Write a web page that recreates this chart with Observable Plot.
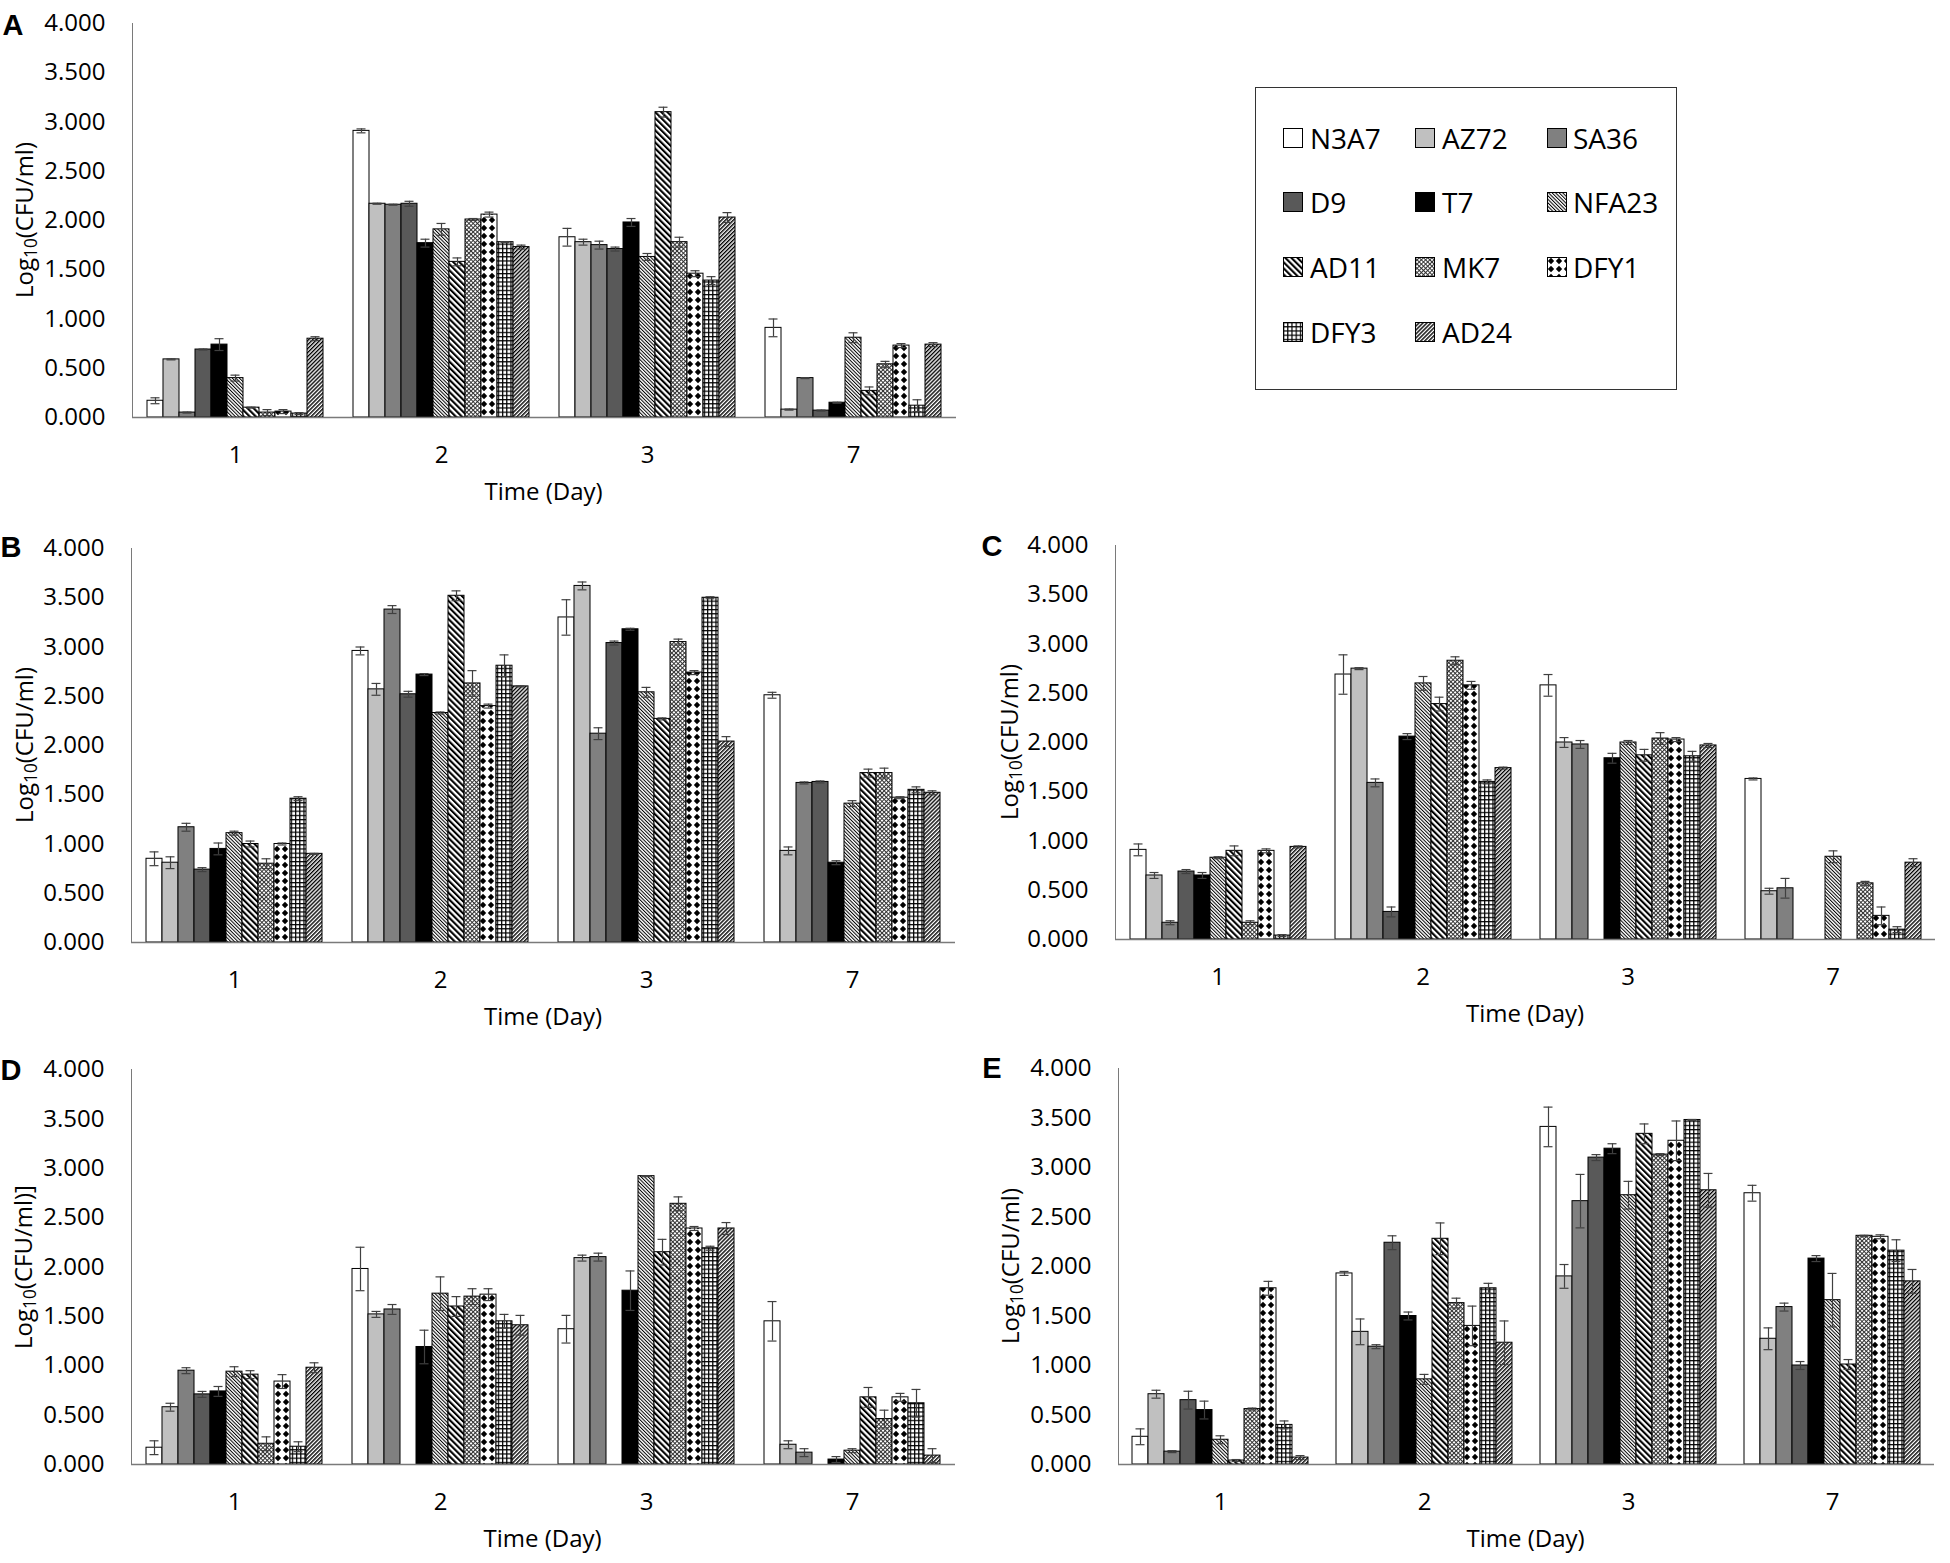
<!DOCTYPE html>
<html><head><meta charset="utf-8">
<script src="https://cdn.jsdelivr.net/npm/d3@7"></script>
<script src="https://cdn.jsdelivr.net/npm/@observablehq/plot@0.6"></script>
<style>
body{margin:0;background:#fff;}
#root{position:relative;width:1950px;height:1563px;background:#fff;font-family:"Open Sans",sans-serif;overflow:hidden;}
.panel{position:absolute;}
.panel svg text{fill:#000;}
.lbl{position:absolute;transform:translate(-50%,-50%);white-space:nowrap;line-height:1;color:#000;}
.lbl sub{font-size:0.72em;vertical-align:-0.25em;line-height:0;}
.legend{position:absolute;border:1.5px solid #333;box-sizing:border-box;}
.litem{position:absolute;font-size:28px;line-height:1;transform:translateY(-50%);color:#000;}
.sw{position:absolute;transform:translateY(-50%);}
</style></head><body>
<svg width="0" height="0" style="position:absolute;left:0;top:0">
<defs>
<pattern id="p-nfa23" patternUnits="userSpaceOnUse" width="2.5" height="2.5" patternTransform="rotate(-45)"><rect width="2.5" height="2.5" fill="#fff"/><rect width="1" height="2.5" fill="#000"/></pattern>
<pattern id="p-ad11" patternUnits="userSpaceOnUse" width="4.3" height="4.3" patternTransform="rotate(-45)"><rect width="4.3" height="4.3" fill="#fff"/><rect width="2.1" height="4.3" fill="#000"/></pattern>
<pattern id="p-ad24" patternUnits="userSpaceOnUse" width="2.8" height="2.8" patternTransform="rotate(45)"><rect width="2.8" height="2.8" fill="#fff"/><rect width="1.4" height="2.8" fill="#000"/></pattern>
<pattern id="p-mk7" patternUnits="userSpaceOnUse" width="3" height="3" patternTransform="rotate(45)"><rect width="3" height="3" fill="#fff"/><rect width="1" height="3" fill="#333"/><rect width="3" height="1" fill="#333"/></pattern>
<pattern id="p-dfy1" patternUnits="userSpaceOnUse" width="8" height="8"><rect width="8" height="8" fill="#fff"/><polygon points="4,0.8 7.2,4 4,7.2 0.8,4" fill="#000"/></pattern>
<pattern id="p-dfy3" patternUnits="userSpaceOnUse" width="4.2" height="4.2"><rect width="4.2" height="4.2" fill="#fff"/><rect width="1.2" height="4.2" fill="#000"/><rect width="4.2" height="1.2" fill="#000"/></pattern>
</defs></svg>
<div id="root"></div>
<script>
// ---------- data ----------
const days = ["1", "2", "3", "7"];
const strains = ["N3A7", "AZ72", "SA36", "D9", "T7", "NFA23", "AD11", "MK7", "DFY1", "DFY3", "AD24"];
const yTicks = [0, 0.5, 1, 1.5, 2, 2.5, 3, 3.5, 4];

// rows = days (1,2,3,7), columns = strains
const valuesA = [
  [0.17, 0.59, 0.05, 0.69, 0.74, 0.40, 0.10, 0.05, 0.06, 0.04, 0.80],
  [2.91, 2.17, 2.16, 2.17, 1.77, 1.91, 1.58, 2.01, 2.06, 1.78, 1.73],
  [1.83, 1.78, 1.75, 1.71, 1.98, 1.63, 3.10, 1.78, 1.46, 1.39, 2.03],
  [0.91, 0.08, 0.40, 0.07, 0.15, 0.81, 0.27, 0.54, 0.73, 0.12, 0.74]
];
const errorsA = [
  [0.03, 0.005, 0.005, 0.005, 0.06, 0.03, 0.005, 0.03, 0.02, 0.01, 0.02],
  [0.02, 0.005, 0.005, 0.025, 0.04, 0.06, 0.04, 0.01, 0.025, 0.005, 0.02],
  [0.09, 0.03, 0.04, 0.02, 0.04, 0.035, 0.05, 0.05, 0.03, 0.04, 0.05],
  [0.09, 0.005, 0.005, 0.005, 0.005, 0.05, 0.04, 0.03, 0.02, 0.06, 0.02]
];
const valuesB = [
  [0.85, 0.81, 1.17, 0.74, 0.95, 1.11, 1.00, 0.80, 1.00, 1.46, 0.90],
  [2.96, 2.57, 3.38, 2.52, 2.72, 2.33, 3.52, 2.63, 2.40, 2.81, 2.60],
  [3.30, 3.62, 2.12, 3.04, 3.18, 2.54, 2.27, 3.05, 2.74, 3.50, 2.04],
  [2.51, 0.93, 1.62, 1.63, 0.81, 1.41, 1.72, 1.72, 1.47, 1.55, 1.52]
];
const errorsB = [
  [0.07, 0.06, 0.04, 0.02, 0.06, 0.02, 0.03, 0.05, 0.01, 0.02, 0.005],
  [0.04, 0.06, 0.04, 0.03, 0.01, 0.01, 0.05, 0.13, 0.02, 0.11, 0.005],
  [0.18, 0.04, 0.06, 0.02, 0.01, 0.05, 0.01, 0.03, 0.02, 0.01, 0.05],
  [0.03, 0.04, 0.01, 0.01, 0.02, 0.03, 0.04, 0.05, 0.01, 0.03, 0.02]
];
const valuesC = [
  [0.91, 0.65, 0.17, 0.69, 0.65, 0.83, 0.90, 0.17, 0.90, 0.04, 0.94],
  [2.69, 2.75, 1.59, 0.28, 2.06, 2.60, 2.39, 2.83, 2.58, 1.60, 1.74],
  [2.58, 2.00, 1.98, null, 1.84, 2.00, 1.87, 2.04, 2.03, 1.86, 1.97],
  [1.63, 0.49, 0.52, null, null, 0.84, null, 0.57, 0.24, 0.10, 0.78]
];
const errorsC = [
  [0.06, 0.03, 0.02, 0.02, 0.03, 0.01, 0.05, 0.02, 0.02, 0.01, 0.01],
  [0.20, 0.01, 0.04, 0.05, 0.03, 0.07, 0.07, 0.04, 0.04, 0.02, 0.01],
  [0.11, 0.05, 0.04, null, 0.05, 0.02, 0.06, 0.06, 0.02, 0.05, 0.02],
  [0.01, 0.03, 0.10, null, null, 0.06, null, 0.02, 0.09, 0.03, 0.04]
];
const valuesD = [
  [0.17, 0.58, 0.95, 0.71, 0.74, 0.94, 0.91, 0.21, 0.84, 0.18, 0.98],
  [1.98, 1.52, 1.57, null, 1.19, 1.73, 1.60, 1.70, 1.72, 1.45, 1.41],
  [1.37, 2.09, 2.10, null, 1.76, 2.92, 2.15, 2.64, 2.39, 2.19, 2.39],
  [1.45, 0.20, 0.12, null, 0.05, 0.14, 0.68, 0.46, 0.68, 0.62, 0.09]
];
const errorsD = [
  [0.07, 0.04, 0.03, 0.03, 0.05, 0.05, 0.04, 0.07, 0.07, 0.05, 0.05],
  [0.22, 0.03, 0.05, null, 0.17, 0.17, 0.10, 0.08, 0.06, 0.07, 0.10],
  [0.14, 0.03, 0.04, null, 0.20, 0.005, 0.13, 0.07, 0.02, 0.02, 0.06],
  [0.20, 0.04, 0.04, null, 0.03, 0.02, 0.10, 0.09, 0.04, 0.14, 0.07]
];
const valuesE = [
  [0.28, 0.71, 0.13, 0.65, 0.55, 0.25, 0.04, 0.56, 1.78, 0.40, 0.07],
  [1.93, 1.34, 1.19, 2.24, 1.50, 0.86, 2.28, 1.63, 1.40, 1.78, 1.23],
  [3.41, 1.90, 2.66, 3.10, 3.19, 2.72, 3.34, 3.13, 3.27, 3.48, 2.77],
  [2.74, 1.27, 1.59, 1.00, 2.08, 1.66, 1.01, 2.31, 2.30, 2.16, 1.85]
];
const errorsE = [
  [0.08, 0.04, 0.01, 0.09, 0.09, 0.04, 0.01, 0.01, 0.07, 0.04, 0.02],
  [0.02, 0.13, 0.02, 0.07, 0.04, 0.05, 0.16, 0.05, 0.20, 0.05, 0.22],
  [0.20, 0.12, 0.27, 0.03, 0.05, 0.14, 0.10, 0.01, 0.20, 0.005, 0.17],
  [0.08, 0.11, 0.04, 0.04, 0.03, 0.27, 0.05, 0.005, 0.02, 0.11, 0.12]
];

const legendOrder = ["N3A7", "AZ72", "SA36", "D9", "T7", "NFA23", "AD11", "MK7", "DFY1", "DFY3", "AD24"];
const yTitleMain = "Log<sub>10</sub>(CFU/ml)";
const yTitleD = "Log<sub>10</sub>(CFU/ml)]";
const xTitle = "Time (Day)";

// ---------- styles ----------
const fills = {
  N3A7: "#ffffff", AZ72: "#c0c0c0", SA36: "#808080", D9: "#595959", T7: "#000000",
  NFA23: "url(#p-nfa23)", AD11: "url(#p-ad11)", MK7: "url(#p-mk7)",
  DFY1: "url(#p-dfy1)", DFY3: "url(#p-dfy3)", AD24: "url(#p-ad24)"
};

const root = document.getElementById("root");

function addLabel(html, x, y, size, extra) {
  const d = document.createElement("div");
  d.className = "lbl";
  d.style.left = x + "px";
  d.style.top = y + "px";
  d.style.fontSize = size + "px";
  if (extra) Object.assign(d.style, extra);
  d.innerHTML = html;
  root.appendChild(d);
}

function drawPanel(letter, vals, errs, g, yTitle) {
  const rows = [];
  days.forEach((day, i) => strains.forEach((s, j) => {
    rows.push({day, strain: s, value: vals[i][j], err: errs[i][j]});
  }));
  const lo = d => d.value == null ? null : Math.max(0, d.value - d.err);
  const hi = d => d.value == null ? null : d.value + d.err;
  const plotH = g.y0 - g.y4;
  const chart = Plot.plot({
    width: g.width,
    height: 23 + plotH + 60,
    marginLeft: g.ml,
    marginRight: g.mr,
    marginTop: 23,
    marginBottom: 60,
    style: {fontFamily: '"Open Sans", sans-serif', fontSize: "24px", color: "#7a7a7a", background: "transparent", overflow: "visible"},
    facet: {data: rows, x: "day"},
    fx: {domain: days, padding: 0, axis: "bottom", tickSize: 0, tickPadding: 28, label: null},
    x: {domain: strains, paddingInner: 0, paddingOuter: 0.8, axis: null},
    y: {domain: [0, 4], ticks: yTicks, tickFormat: d3.format(".3f"), tickSize: 0, tickPadding: 27, label: null, line: true},
    color: {type: "identity"},
    marks: [
      Plot.barY(rows, {x: "strain", y: "value", fill: d => fills[d.strain], stroke: "#000", strokeWidth: 1}),
      Plot.ruleX(rows, {x: "strain", y1: lo, y2: hi, stroke: "#404040", strokeWidth: 1.2}),
      Plot.tickY(rows, {x: "strain", y: lo, stroke: "#404040", strokeWidth: 1.2, insetLeft: 3.5, insetRight: 3.5}),
      Plot.tickY(rows, {x: "strain", y: hi, stroke: "#404040", strokeWidth: 1.2, insetLeft: 3.5, insetRight: 3.5}),
      Plot.ruleY([0], {stroke: "#7a7a7a", strokeWidth: 1.4})
    ]
  });
  const wrap = document.createElement("div");
  wrap.className = "panel";
  wrap.style.left = (g.axis - g.ml) + "px";
  wrap.style.top = (g.y4 - 23) + "px";
  wrap.appendChild(chart);
  root.appendChild(wrap);
  // titles
  addLabel(letter, g.letterX, g.letterY, 29, {fontFamily: '"Liberation Sans", Arial, sans-serif', fontWeight: "bold"});
  addLabel(yTitle, g.axis - 106, (g.y4 + g.y0) / 2, 24, {transform: "translate(-50%,-50%) rotate(-90deg)"});
  addLabel(xTitle, (g.axis + g.right) / 2, g.y0 + 74, 24);
}

const geoA = {axis: 130, right: 957, y4: 23, y0: 417, ml: 130, mr: 23, width: 980, letterX: 13, letterY: 25};
const geoB = {axis: 130, right: 956, y4: 548, y0: 942, ml: 130, mr: 24, width: 980, letterX: 11, letterY: 547};
const geoC = {axis: 1115, right: 1935, y4: 545, y0: 939, ml: 130, mr: 15, width: 965, letterX: 992, letterY: 546};
const geoD = {axis: 129, right: 956, y4: 1069, y0: 1464, ml: 129, mr: 24, width: 980, letterX: 11, letterY: 1070};
const geoE = {axis: 1116, right: 1935, y4: 1068, y0: 1464, ml: 131, mr: 15, width: 965, letterX: 992, letterY: 1068};

drawPanel("A", valuesA, errorsA, geoA, yTitleMain);
drawPanel("B", valuesB, errorsB, geoB, yTitleMain);
drawPanel("C", valuesC, errorsC, geoC, yTitleMain);
drawPanel("D", valuesD, errorsD, geoD, yTitleD);
drawPanel("E", valuesE, errorsE, geoE, yTitleMain);

// ---------- legend ----------
const leg = document.createElement("div");
leg.className = "legend";
Object.assign(leg.style, {left: "1255px", top: "87px", width: "422px", height: "303px"});
root.appendChild(leg);
const colSw = [1283, 1415, 1547], colTx = [1310, 1442, 1573], rowY = [138, 202, 267, 332];
legendOrder.forEach((s, k) => {
  const r = Math.floor(k / 3), c = k % 3;
  const sw = document.createElementNS("http://www.w3.org/2000/svg", "svg");
  sw.setAttribute("width", 20); sw.setAttribute("height", 20);
  sw.setAttribute("class", "sw");
  sw.style.left = colSw[c] + "px"; sw.style.top = rowY[r] + "px";
  sw.style.position = "absolute";
  const rect = document.createElementNS("http://www.w3.org/2000/svg", "rect");
  rect.setAttribute("x", 0.5); rect.setAttribute("y", 0.5);
  rect.setAttribute("width", 19); rect.setAttribute("height", 19);
  rect.setAttribute("fill", fills[s]); rect.setAttribute("stroke", "#000"); rect.setAttribute("stroke-width", 1);
  sw.appendChild(rect);
  root.appendChild(sw);
  const t = document.createElement("div");
  t.className = "litem";
  t.style.left = colTx[c] + "px"; t.style.top = rowY[r] + "px";
  t.textContent = s;
  root.appendChild(t);
});
</script>
</body></html>
